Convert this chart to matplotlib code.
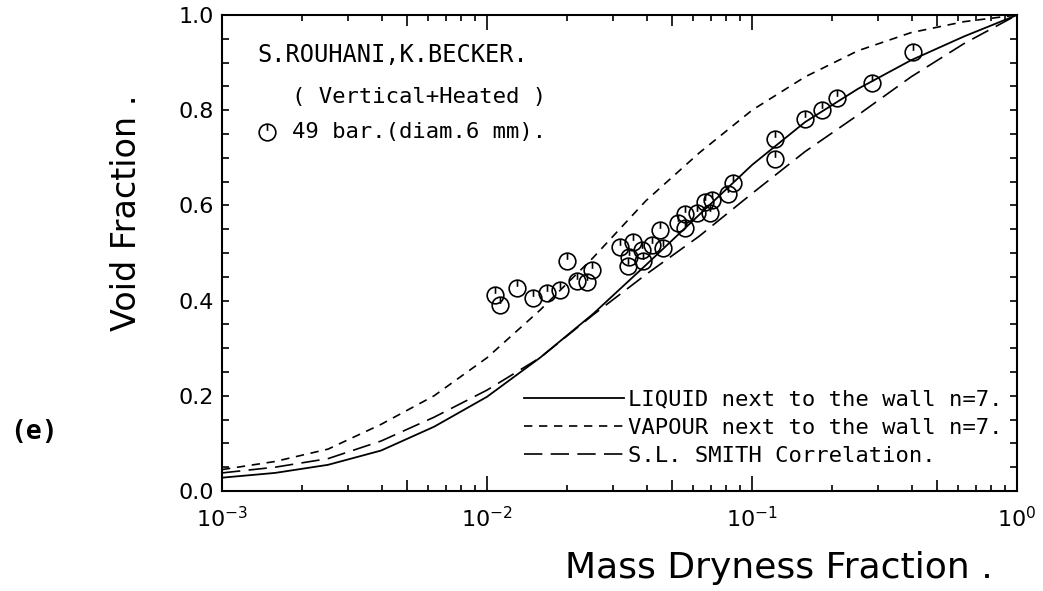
import numpy as np
import matplotlib
matplotlib.use('Agg')
import matplotlib.pyplot as plt
from matplotlib.path import Path
from matplotlib.ticker import FixedLocator, MultipleLocator, NullFormatter

# Measured points, 49 bar, 6 mm tube (vertical, heated)
x_meas = [0.0107, 0.0112, 0.0130, 0.0149, 0.0169, 0.0189, 0.0201, 0.0218, 0.0238, 0.0250,
          0.0318, 0.0357, 0.0344, 0.0341, 0.0384, 0.0389, 0.0418, 0.0450, 0.0460, 0.0527,
          0.0559, 0.0559, 0.0618, 0.0665, 0.0705, 0.0691, 0.0814, 0.0851, 0.1222, 0.1222,
          0.1585, 0.1832, 0.210, 0.283, 0.405]
y_meas = [0.412, 0.391, 0.426, 0.405, 0.417, 0.422, 0.484, 0.442, 0.440, 0.464,
          0.513, 0.524, 0.492, 0.473, 0.506, 0.484, 0.517, 0.548, 0.510, 0.562,
          0.582, 0.552, 0.583, 0.608, 0.611, 0.585, 0.624, 0.648, 0.740, 0.697,
          0.781, 0.800, 0.825, 0.858, 0.922]

# Model curves, read on a log10(x) grid
logx_grid = [-3.0, -2.8, -2.6, -2.4, -2.2, -2.0, -1.8, -1.6, -1.4, -1.2,
             -1.0, -0.8, -0.6, -0.4, -0.2, 0.0]
y_liquid = [0.028, 0.038, 0.055, 0.085, 0.135, 0.198, 0.280, 0.372, 0.475, 0.580,
            0.685, 0.775, 0.845, 0.905, 0.955, 1.0]
y_vapour = [0.045, 0.062, 0.088, 0.140, 0.200, 0.280, 0.380, 0.490, 0.610, 0.710,
            0.800, 0.870, 0.925, 0.963, 0.986, 1.0]
y_smith = [0.038, 0.050, 0.068, 0.105, 0.155, 0.212, 0.280, 0.370, 0.455, 0.535,
           0.625, 0.713, 0.790, 0.870, 0.940, 1.0]

yticks = [0.0, 0.2, 0.4, 0.6, 0.8, 1.0]
ytick_labels = ['0.0', '0.2', '0.4', '0.6', '0.8', '1.0']

# circle with a short stroke from the top towards the centre
ring = Path.unit_circle()
stroke = Path([[0, 1], [0, 0.2]], [Path.MOVETO, Path.LINETO])
meas_marker = Path.make_compound_path(ring, stroke)

mono = 'DejaVu Sans Mono'

fig = plt.figure(figsize=(10.43, 5.91), dpi=100)
ax = fig.add_axes([0.2129, 0.1692, 0.7622, 0.8054])

xg = 10 ** np.array(logx_grid)
ax.plot(xg, y_liquid, color='black', lw=1.3, ls='-',
        label='LIQUID next to the wall n=7.')
ax.plot(xg, y_vapour, color='black', lw=1.2, dashes=(5, 4),
        label='VAPOUR next to the wall n=7.')
ax.plot(xg, y_smith, color='black', lw=1.2, dashes=(11, 5),
        label='S.L. SMITH Correlation.')
ax.plot(x_meas, y_meas, ls='none', marker=meas_marker, markersize=12,
        markerfacecolor='none', markeredgecolor='black', markeredgewidth=1.2)

ax.set_xscale('log')
ax.set_xlim(1e-3, 1.0)
ax.set_ylim(0.0, 1.0)

ax.set_yticks(yticks)
ax.set_yticklabels(ytick_labels)
ax.yaxis.set_minor_locator(MultipleLocator(0.05))
minor_x = [m * 10.0 ** e for e in (-3, -2, -1) for m in range(2, 10)]
ax.xaxis.set_minor_locator(FixedLocator(minor_x))
ax.xaxis.set_minor_formatter(NullFormatter())

for s in ax.spines.values():
    s.set_linewidth(1.5)
ax.tick_params(which='both', direction='in', top=True, right=True, width=1.2)
ax.tick_params(axis='x', which='major', length=11, labelsize=16, pad=11)
ax.tick_params(axis='x', which='minor', length=4)
ax.tick_params(axis='y', which='both', length=5, labelsize=16, pad=6)

# longer stroke at the 5 x 10^n positions
for t, loc in zip(ax.xaxis.get_minor_ticks(), minor_x):
    if abs(loc / 10 ** np.floor(np.log10(loc)) - 5) < 1e-6:
        t.tick1line.set_markersize(8)
        t.tick2line.set_markersize(8)

ax.set_xlabel('Mass Dryness Fraction .', fontsize=26)
ax.xaxis.set_label_coords(0.70, -0.125)
ax.set_ylabel('Void Fraction .', fontsize=24)
ax.yaxis.set_label_coords(-0.10, 0.585)

ax.text(0.044, 0.916, 'S.ROUHANI,K.BECKER.', transform=ax.transAxes,
        fontsize=17, family=mono, va='center', ha='left')
ax.text(0.088, 0.828, '( Vertical+Heated )', transform=ax.transAxes,
        fontsize=16, family=mono, va='center', ha='left')
ax.plot([0.057], [0.754], transform=ax.transAxes, ls='none', marker=meas_marker,
        markersize=12, markerfacecolor='none', markeredgecolor='black',
        markeredgewidth=1.2)
ax.text(0.088, 0.754, '49 bar.(diam.6 mm).', transform=ax.transAxes,
        fontsize=16, family=mono, va='center', ha='left')

leg = ax.legend(loc='upper left', bbox_to_anchor=(0.38, 0.213), frameon=False,
                prop={'family': mono, 'size': 16}, handlelength=4.5,
                handletextpad=0.18, borderpad=0, borderaxespad=0, labelspacing=0.36)

fig.text(10 / 1043, 1 - 432 / 591, '(e)', fontsize=19, fontweight='bold',
         family=mono, va='center', ha='left')

fig.savefig('out.png', dpi=100)
